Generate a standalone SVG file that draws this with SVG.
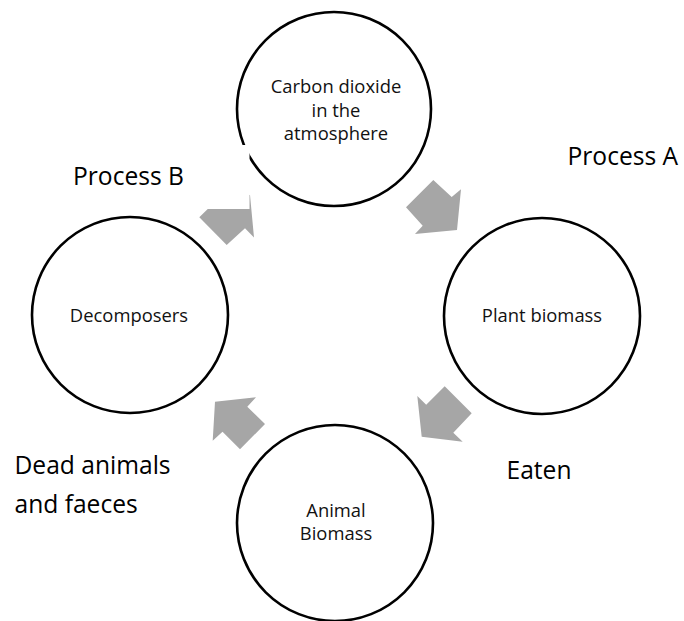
<svg xmlns="http://www.w3.org/2000/svg" width="684" height="621" viewBox="0 0 684 621">
<style>
.node circle{fill:#fff;stroke:#000;stroke-width:2.6}
.ntext{font-family:"Open Sans","Liberation Sans",sans-serif;font-size:18.4px;fill:#111;text-anchor:middle}
.label{font-family:"Open Sans","Liberation Sans",sans-serif;font-size:24.6px;fill:#000}
.arrow{fill:#A6A6A6;stroke:none}
</style>
<rect width="684" height="621" fill="#fff"/>
<g id="co2" class="node">
<circle cx="334" cy="109" r="97"/>
<text class="ntext" x="336" y="93">Carbon dioxide</text>
<text class="ntext" x="336" y="116.5">in the</text>
<text class="ntext" x="336" y="140">atmosphere</text>
</g>
<g id="plant" class="node">
<circle cx="542" cy="316" r="98"/>
<text class="ntext" x="542" y="322">Plant biomass</text>
</g>
<g id="decomposers" class="node">
<circle cx="130" cy="315" r="98"/>
<text class="ntext" x="129" y="322">Decomposers</text>
</g>
<g id="animal" class="node">
<circle cx="335" cy="523" r="98"/>
<text class="ntext" x="336" y="517">Animal</text>
<text class="ntext" x="336" y="540">Biomass</text>
</g>
<g id="connectors">
<polygon class="arrow" points="406,207.3 433.3,180 451.7,197 461,189.3 457,230 415,234 422.7,225.7"/>
<polygon class="arrow" points="471.7,413.3 444.7,386.3 426.2,404.8 417.3,396 421.7,436.7 462.7,441.7 453.3,432.7"/>
<polygon class="arrow" points="265,424 247.3,406.7 256,397.3 215,401.7 212.7,440.7 222.5,431.8 240,449.3"/>
<polygon class="arrow" points="199.3,217.3 217.5,199.5 208.5,190 250,195 254,237.5 245,228.3 226.7,245"/>
</g>
<g id="labels">
<text class="label" x="567.5" y="164.5">Process A</text>
<rect x="60" y="145" width="189.5" height="64" fill="#fff"/>
<text class="label" x="73" y="184.5">Process B</text>
<text class="label" x="506.5" y="479">Eaten</text>
<text class="label" x="14.5" y="473.5">Dead animals</text>
<text class="label" x="14.5" y="512.5">and faeces</text>
</g>
</svg>
